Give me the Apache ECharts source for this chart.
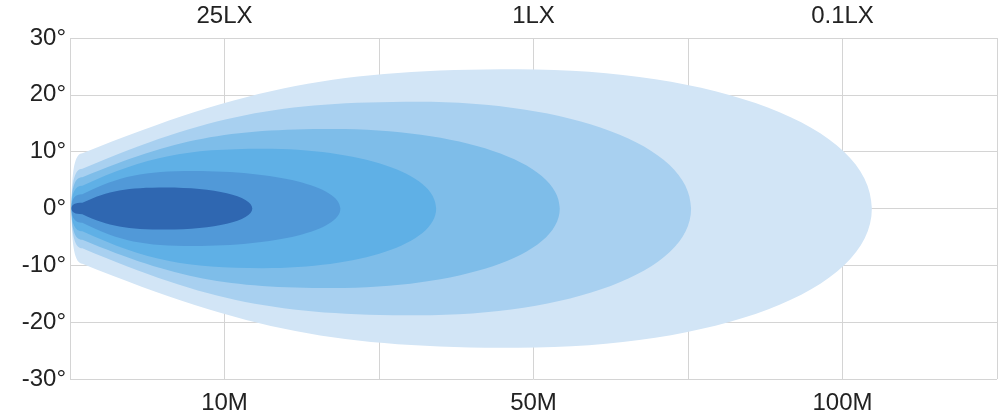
<!DOCTYPE html>
<html>
<head>
<meta charset="utf-8">
<script src="https://cdn.jsdelivr.net/npm/echarts@6/dist/echarts.min.js"></script>
<style>html,body{margin:0;padding:0;background:#fff}#main{width:1000px;height:417px}</style>
</head>
<body>
<div id="main"></div>
<script>
// 光型图
var yTicks = [-30, -20, -10, 0, 10, 20, 30];
var bottomLabels = {1: '10M', 3: '50M', 5: '100M'};
var topLabels = {1: '25LX', 3: '1LX', 5: '0.1LX'};
// 每层: 照射距离(格), 最大半角, 最宽处位置(格), 起点半角
var layerReach = [5.19, 4.02, 3.17, 2.37, 1.75, 1.18];
var layerHalf  = [24.5, 18.8, 14, 10.5, 6.6, 3.7];
var layerPeak  = [2.9, 2.25, 1.7, 1.25, 0.8, 0.62];
var layerStart = [9.7, 7, 5.5, 4, 2.5, 1];
var layerColor = ['#d2e5f6', '#a8d0f0', '#7ebde9', '#5fb0e6', '#5199d8', '#2f67b1'];

(function(){
  var myChart = echarts.init(document.getElementById('main'));
  var data = layerReach.map(function(r, i){
    return [r, layerHalf[i], layerPeak[i], layerStart[i], i];
  });
  var font = 'Liberation Sans';
  var option = {
    animation: false,
    grid: {left: 70, right: 3, top: 38, bottom: 38},
    xAxis: [{
      type: 'value', min: 0, max: 6, interval: 1,
      axisLine: {show: false}, axisTick: {show: false},
      splitLine: {lineStyle: {color: '#d4d4d4'}},
      axisLabel: {fontSize: 24, color: '#222', fontFamily: font, margin: 12,
        formatter: function(v){ return bottomLabels[v] || ''; }}
    }, {
      type: 'value', min: 0, max: 6, interval: 1, position: 'top',
      axisLine: {show: false}, axisTick: {show: false}, splitLine: {show: false},
      axisLabel: {fontSize: 24, color: '#222', fontFamily: font, margin: 10,
        formatter: function(v){ return topLabels[v] || ''; }}
    }],
    yAxis: {
      type: 'value', min: -30, max: 30, interval: 10,
      axisLine: {show: false}, axisTick: {show: false},
      splitLine: {lineStyle: {color: '#d4d4d4'}},
      axisLabel: {fontSize: 24, color: '#222', fontFamily: font, margin: 4,
        formatter: function(v){ return yTicks.indexOf(v) >= 0 ? v + '°' : ''; }}
    },
    series: [{
      type: 'custom',
      data: data,
      renderItem: function(params, api){
        var r = api.value(0), h = api.value(1), p = api.value(2), w = api.value(3);
        var c = function(x, y){ return api.coord([x, y]).join(','); };
        var s = 0.08; // 左端圆角
        var d = 'M' + c(0.01, 0) +
          'C' + c(0.01, w*0.7) + ' ' + c(s*0.4, w) + ' ' + c(s, w) +
          'C' + c(p*0.4, h*0.8 + w*0.2) + ' ' + c(p*0.6, h) + ' ' + c(p, h) +
          'C' + c(p + (r-p)*0.55, h) + ' ' + c(r, h*0.6) + ' ' + c(r, 0) +
          'C' + c(r, -h*0.6) + ' ' + c(p + (r-p)*0.55, -h) + ' ' + c(p, -h) +
          'C' + c(p*0.6, -h) + ' ' + c(p*0.4, -h*0.8 - w*0.2) + ' ' + c(s, -w) +
          'C' + c(s*0.4, -w) + ' ' + c(0.01, -w*0.7) + ' ' + c(0.01, 0) + 'Z';
        return {type: 'path', shape: {pathData: d},
          style: {fill: layerColor[api.value(4)]}};
      }
    }]
  };
  myChart.setOption(option);
})();
</script>
</body>
</html>
